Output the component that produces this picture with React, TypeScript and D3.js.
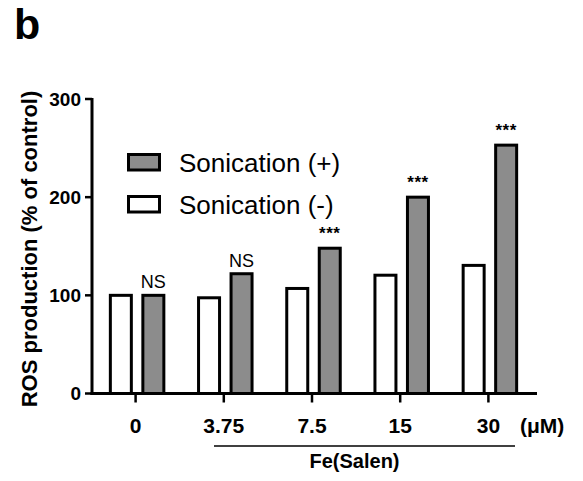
import React from "react";
import * as d3 from "d3";

const categories = ["0", "3.75", "7.5", "15", "30"];
const sonicationMinus = [100, 97.5, 107, 120.5, 130.5];
const sonicationPlus = [100, 122, 148, 200, 253];
const significance = ["NS", "NS", "***", "***", "***"];
const yTicks = [0, 100, 200, 300];
const seriesNames = ["Sonication (-)", "Sonication (+)"];
const legendOrder = ["Sonication (+)", "Sonication (-)"];

const FONT = "'Liberation Sans', Arial, Helvetica, sans-serif";
const GRAY = "#8c8c8c";

export default function App() {
  const W = 583;
  const H = 481;
  const axisX = 92;
  const axisEnd = 537;
  const y = d3.scaleLinear().domain([0, 300]).range([393.5, 99]);
  const x0 = d3.scaleBand<string>().domain(categories).range([93, 534]).padding(0);
  const x1 = d3.scaleBand<string>().domain(seriesNames).range([-26.75, 26.75]).paddingInner(0.354).paddingOuter(0);
  const fillFor = (s: string) => (s === "Sonication (+)" ? GRAY : "#ffffff");
  const valuesFor = (s: string) => (s === "Sonication (+)" ? sonicationPlus : sonicationMinus);
  const sw = 3;

  return (
    <svg width={W} height={H} style={{ display: "block", position: "absolute", left: 0, top: 0 }} fontFamily={FONT}>
      <rect width={W} height={H} fill="#fff" />
      <text x={14} y={39} fontSize={43} fontWeight="bold">b</text>

      {/* bars */}
      {categories.map((c, i) => {
        const cx = x0(c)! + x0.bandwidth() / 2;
        return (
          <g key={c}>
            {seriesNames.map((s) => {
              const v = valuesFor(s)[i];
              const bx = cx + x1(s)!;
              return (
                <rect
                  key={s}
                  x={bx}
                  y={y(v)}
                  width={x1.bandwidth()}
                  height={y(0) - y(v)}
                  fill={fillFor(s)}
                  stroke="#000"
                  strokeWidth={sw}
                />
              );
            })}
            {(() => {
              const label = significance[i];
              const gx = cx + x1("Sonication (+)")! + x1.bandwidth() / 2;
              const top = y(sonicationPlus[i]);
              return label === "NS" ? (
                <text x={gx} y={top - 7} textAnchor="middle" fontSize={18}>NS</text>
              ) : (
                <text x={gx} y={top - 9} textAnchor="middle" fontSize={17} fontWeight="bold" letterSpacing={0.5}>{label}</text>
              );
            })()}
          </g>
        );
      })}

      {/* axes */}
      <line x1={axisX} x2={axisX} y1={y(300) - 1} y2={y(0) + 1.5} stroke="#000" strokeWidth={3} />
      <line x1={axisX - 1.5} x2={axisEnd} y1={y(0)} y2={y(0)} stroke="#000" strokeWidth={3} />
      {yTicks.map((t) => (
        <g key={t}>
          <line x1={85} x2={axisX} y1={y(t)} y2={y(t)} stroke="#000" strokeWidth={2.5} />
          <text x={81} y={y(t)} dy="0.36em" textAnchor="end" fontSize={19} fontWeight="bold">{t}</text>
        </g>
      ))}
      {categories.map((c) => {
        const cx = x0(c)! + x0.bandwidth() / 2 - 1.5;
        return (
          <g key={c}>
            <line x1={cx} x2={cx} y1={y(0)} y2={y(0) + 9} stroke="#000" strokeWidth={2.5} />
            <text x={cx} y={433} textAnchor="middle" fontSize={21} fontWeight="bold">{c}</text>
          </g>
        );
      })}
      <text x={520} y={433} fontSize={21} fontWeight="bold">(μM)</text>
      <line x1={214} x2={515} y1={446} y2={446} stroke="#000" strokeWidth={1.5} />
      <text x={354.5} y={468} textAnchor="middle" fontSize={20} fontWeight="bold">Fe(Salen)</text>

      <text
        transform="translate(37,249) rotate(-90)"
        textAnchor="middle"
        fontSize={22}
        fontWeight="bold"
      >
        ROS production (% of control)
      </text>

      {/* legend */}
      {legendOrder.map((s, i) => (
        <g key={s} transform={`translate(0, ${i * 42})`}>
          <rect x={128.5} y={154.5} width={31} height={15.5} fill={fillFor(s)} stroke="#000" strokeWidth={sw} />
          <text x={179} y={171.5} fontSize={26}>{s}</text>
        </g>
      ))}
    </svg>
  );
}
